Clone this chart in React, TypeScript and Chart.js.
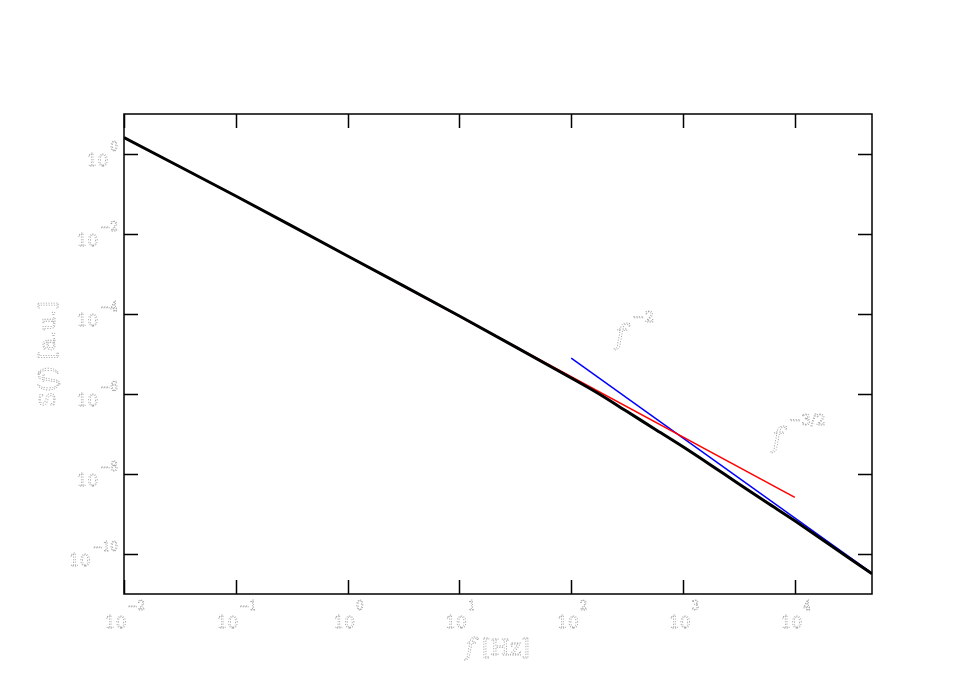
import { useEffect, useRef } from 'react';
import { Chart, registerables } from 'chart.js';

Chart.register(...registerables);

// Measured spectrum S(f)
const freqMeasured = [0.01, 0.1, 1, 10, 100, 178, 316, 562, 1000, 1778, 3162, 5623, 10000, 31623, 49000];
const specMeasured = [2.57, 0.0891, 2.82e-3, 8.91e-5, 2.51e-6, 1.0e-6, 3.63e-7, 1.32e-7, 4.79e-8, 1.66e-8, 5.62e-9, 1.93e-9, 6.76e-10, 7.41e-11, 3.2e-11];

// f^-3/2 guide line
const freqSlope32 = [1, 10000];
const specSlope32 = [2.82e-3, 2.6e-9];

// f^-2 guide line
const freqSlope2 = [100, 49000];
const specSlope2 = [7.9e-6, 3.3e-11];

const xTickExps = [-2, -1, 0, 1, 2, 3, 4];
const yTickExps = [0, -2, -4, -6, -8, -10];
const xTitleParts = ['f', ' [Hz]'];
const yTitleParts = ['S(', 'f', ') [a.u.]'];
const annotations = [
  { base: 'f', exp: '−2', x: 250, y: 1.8e-5 },
  { base: 'f', exp: '−3/2', x: 6300, y: 4.8e-8 },
];

type Part = { t: string; font: string; dy: number; dx?: number };

function drawParts(ctx: CanvasRenderingContext2D, parts: Part[], x: number, y: number, align: 'left' | 'center' | 'right') {
  let total = 0;
  for (const p of parts) {
    ctx.font = p.font;
    total += ctx.measureText(p.t).width + (p.dx || 0);
  }
  let cx = align === 'left' ? x : align === 'center' ? x - total / 2 : x - total;
  for (const p of parts) {
    ctx.font = p.font;
    cx += p.dx || 0;
    ctx.strokeText(p.t, cx, y + p.dy);
    cx += ctx.measureText(p.t).width;
  }
}

const FONT = '"DejaVu Serif"';
const fmtExp = (e: number) => (e < 0 ? '−' + String(-e) : String(e));

const decoPlugin = {
  id: 'deco',
  afterDatasetsDraw(chart: any) {
    const ctx: CanvasRenderingContext2D = chart.ctx;
    const { left, right, top, bottom } = chart.chartArea;
    const xs = chart.scales.x;
    const ys = chart.scales.y;
    ctx.save();
    // frame
    ctx.strokeStyle = '#000';
    ctx.lineWidth = 1.5;
    ctx.setLineDash([]);
    ctx.strokeRect(left, top, right - left, bottom - top);
    const tl = 14;
    ctx.beginPath();
    for (const e of xTickExps) {
      const px = Math.round(xs.getPixelForValue(Math.pow(10, e))) + 0.5;
      ctx.moveTo(px, bottom);
      ctx.lineTo(px, bottom - tl);
      ctx.moveTo(px, top);
      ctx.lineTo(px, top + tl);
    }
    for (const e of yTickExps) {
      const py = Math.round(ys.getPixelForValue(Math.pow(10, e))) + 0.5;
      ctx.moveTo(left, py);
      ctx.lineTo(left + tl, py);
      ctx.moveTo(right, py);
      ctx.lineTo(right - tl, py);
    }
    ctx.stroke();

    // text style: faint dotted outline
    ctx.strokeStyle = '#a0a0a0';
    ctx.lineWidth = 0.8;
    ctx.setLineDash([1.2, 1.4]);
    ctx.textBaseline = 'alphabetic';
    ctx.textAlign = 'left';

    for (const e of xTickExps) {
      const px = xs.getPixelForValue(Math.pow(10, e));
      drawParts(ctx, [
        { t: '10', font: `17px ${FONT}`, dy: 0 },
        { t: fmtExp(e), font: `12px ${FONT}`, dy: -18, dx: 1 },
      ], px + 1, 628, 'center');
    }
    for (const e of yTickExps) {
      const py = ys.getPixelForValue(Math.pow(10, e));
      drawParts(ctx, [
        { t: '10', font: `17px ${FONT}`, dy: 0 },
        { t: fmtExp(e), font: `12px ${FONT}`, dy: -15, dx: 2 },
      ], 118, py + 12, 'right');
    }

    // x title
    drawParts(ctx, [
      { t: xTitleParts[0], font: `italic 24px ${FONT}`, dy: 0 },
      { t: xTitleParts[1], font: `22px ${FONT}`, dy: 0 },
    ], (left + right) / 2, 655, 'center');

    // y title (rotated)
    ctx.save();
    ctx.translate(55, (top + bottom) / 2);
    ctx.rotate(-Math.PI / 2);
    drawParts(ctx, [
      { t: yTitleParts[0], font: `22px ${FONT}`, dy: 0 },
      { t: yTitleParts[1], font: `italic 22px ${FONT}`, dy: 0 },
      { t: yTitleParts[2], font: `22px ${FONT}`, dy: 0 },
    ], 0, 0, 'center');
    ctx.restore();

    // annotations
    for (const a of annotations) {
      const px = xs.getPixelForValue(a.x);
      const py = ys.getPixelForValue(a.y);
      drawParts(ctx, [
        { t: a.base, font: `italic 28px ${FONT}`, dy: 0 },
        { t: a.exp, font: `15px ${FONT}`, dy: -22, dx: 6 },
      ], px, py, 'left');
    }
    ctx.restore();
  },
};

export default function App() {
  const ref = useRef<HTMLCanvasElement | null>(null);
  useEffect(() => {
    document.body.style.margin = '0';
    const canvas = ref.current;
    if (!canvas) return;
    const toXY = (xs: number[], ys: number[]) => xs.map((x, i) => ({ x, y: ys[i] }));
    const chart = new Chart(canvas, {
      type: 'line',
      data: {
        datasets: [
          {
            data: toXY(freqMeasured, specMeasured),
            borderColor: '#000',
            borderWidth: 3,
            pointRadius: 0,
            tension: 0.3,
            fill: false,
          },
          {
            data: toXY(freqSlope32, specSlope32),
            borderColor: '#ff0000',
            borderWidth: 1.5,
            pointRadius: 0,
            fill: false,
          },
          {
            data: toXY(freqSlope2, specSlope2),
            borderColor: '#0000ff',
            borderWidth: 1.5,
            pointRadius: 0,
            fill: false,
          },
        ],
      },
      options: {
        animation: false,
        responsive: false,
        devicePixelRatio: 1,
        layout: { padding: { left: 124, right: 97, top: 114, bottom: 92 } },
        plugins: { legend: { display: false }, tooltip: { enabled: false } },
        scales: {
          x: { type: 'logarithmic', min: 0.01, max: 49000, display: false },
          y: { type: 'logarithmic', min: 1e-11, max: 10, display: false },
        },
      },
      plugins: [decoPlugin],
    } as any);
    return () => chart.destroy();
  }, []);
  return (
    <canvas
      ref={ref}
      width={969}
      height={686}
      style={{ position: 'fixed', left: 0, top: 0, display: 'block', background: '#fff' }}
    />
  );
}
